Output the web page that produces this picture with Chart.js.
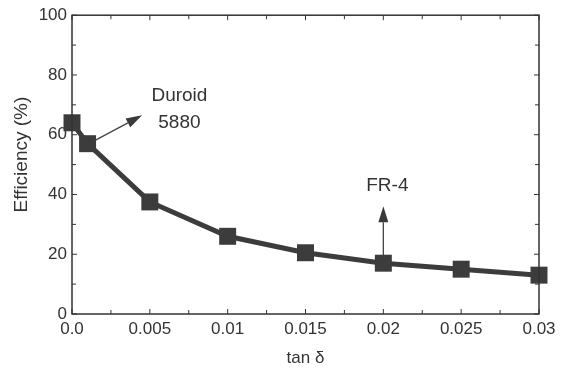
<!DOCTYPE html>
<html>
<head>
<meta charset="utf-8">
<script src="https://cdn.jsdelivr.net/npm/chart.js@4.4.1/dist/chart.umd.min.js"></script>
<style>
  html, body { margin: 0; padding: 0; background: #fff; }
  .chart__container { width: 568px; height: 369px; position: relative; }
</style>
</head>
<body>
<div class="chart__container">
  <canvas id="my-chart"></canvas>
</div>
<script>
// tan delta values and efficiency
const lossTangent = [0, 0.001, 0.005, 0.01, 0.015, 0.02, 0.025, 0.03];
const efficiency = [64, 57, 37.5, 26, 20.5, 17, 15, 13];

const xTicks = [0, 0.005, 0.01, 0.015, 0.02, 0.025, 0.03];
const xTickLabels = ['0.0', '0.005', '0.01', '0.015', '0.02', '0.025', '0.03'];
const yTicks = [0, 20, 40, 60, 80, 100];
const yTickLabels = ['0', '20', '40', '60', '80', '100'];

const ink = '#333';
const font = 'Liberation Sans';

// frame, inward ticks, y title and the two labelled arrows
const framePlugin = {
  id: 'frame',
  afterDraw(chart) {
    const { ctx, chartArea: a, scales: { x, y } } = chart;
    ctx.save();
    ctx.strokeStyle = ink;
    ctx.lineWidth = 1.5;
    ctx.strokeRect(a.left, a.top, a.right - a.left, a.bottom - a.top);

    ctx.lineWidth = 1;
    const tick = (x1, y1, x2, y2) => {
      ctx.beginPath(); ctx.moveTo(x1, y1); ctx.lineTo(x2, y2); ctx.stroke();
    };
    for (let i = 0; i < xTicks.length; i++) {
      const px = x.getPixelForValue(xTicks[i]);
      tick(px, a.bottom, px, a.bottom - 5);
      tick(px, a.top, px, a.top + 5);
      if (i < xTicks.length - 1) {
        const mx = x.getPixelForValue((xTicks[i] + xTicks[i + 1]) / 2);
        tick(mx, a.bottom, mx, a.bottom - 4);
        tick(mx, a.top, mx, a.top + 4);
      }
    }
    for (let i = 0; i < yTicks.length; i++) {
      const py = y.getPixelForValue(yTicks[i]);
      tick(a.left, py, a.left + 5, py);
      tick(a.right, py, a.right - 5, py);
      if (i < yTicks.length - 1) {
        const my = y.getPixelForValue((yTicks[i] + yTicks[i + 1]) / 2);
        tick(a.left, my, a.left + 4, my);
        tick(a.right, my, a.right - 4, my);
      }
    }

    const arrow = (x1, y1, x2, y2) => {
      const ang = Math.atan2(y2 - y1, x2 - x1);
      const len = 16, half = 5;
      const bx = x2 - len * Math.cos(ang), by = y2 - len * Math.sin(ang);
      ctx.strokeStyle = '#444';
      ctx.lineWidth = 1.3;
      ctx.beginPath(); ctx.moveTo(x1, y1); ctx.lineTo(bx, by); ctx.stroke();
      ctx.fillStyle = '#3a3a3a';
      ctx.beginPath();
      ctx.moveTo(x2, y2);
      ctx.lineTo(bx + half * Math.sin(ang), by - half * Math.cos(ang));
      ctx.lineTo(bx - half * Math.sin(ang), by + half * Math.cos(ang));
      ctx.closePath();
      ctx.fill();
    };

    // Duroid 5880 arrow from the 0.001 point
    const dx = x.getPixelForValue(lossTangent[1]) + 7;
    const dy = y.getPixelForValue(efficiency[1]) - 3;
    arrow(dx, dy, x.getPixelForValue(0.0045), y.getPixelForValue(66.5));

    // FR-4 arrow straight up from the 0.02 point
    const fx = x.getPixelForValue(lossTangent[5]);
    const fy = y.getPixelForValue(efficiency[5]);
    arrow(fx, fy - 8, fx, fy - 57);

    ctx.fillStyle = ink;
    ctx.font = '19px "' + font + '"';
    ctx.textAlign = 'center';
    ctx.textBaseline = 'middle';
    ctx.fillText('Duroid', x.getPixelForValue(0.0069), y.getPixelForValue(73));
    ctx.fillText('5880', x.getPixelForValue(0.0069), y.getPixelForValue(64));
    ctx.fillText('FR-4', fx + 4, fy - 77);

    ctx.translate(22, (a.top + a.bottom) / 2 - 10);
    ctx.rotate(-Math.PI / 2);
    ctx.fillText('Efficiency (%)', 0, 0);
    ctx.restore();
  }
};

new Chart(document.getElementById('my-chart'), {
  type: 'line',
  data: {
    datasets: [{
      data: lossTangent.map((v, i) => ({ x: v, y: efficiency[i] })),
      borderColor: '#3c3c3c',
      borderWidth: 5,
      backgroundColor: '#3c3c3c',
      pointStyle: 'rect',
      pointRadius: 12,
      pointBorderWidth: 0,
      pointBackgroundColor: '#3c3c3c',
      tension: 0,
      clip: false,
    }],
  },
  options: {
    responsive: true,
    maintainAspectRatio: false,
    animation: false,
    layout: { padding: { top: 4, right: 29, left: 0, bottom: 0 } },
    plugins: { legend: { display: false }, tooltip: { enabled: false } },
    scales: {
      x: {
        type: 'linear',
        min: 0,
        max: 0.03,
        grid: { display: false, drawTicks: false },
        border: { display: false },
        afterBuildTicks: (s) => { s.ticks = xTicks.map((v) => ({ value: v })); },
        afterFit: (s) => { s.height = 55; },
        ticks: {
          padding: 5,
          color: ink,
          font: { family: font, size: 17 },
          maxRotation: 0,
          autoSkip: false,
          callback: (v, i) => xTickLabels[i],
        },
        title: {
          display: true,
          text: 'tan δ',
          color: ink,
          font: { family: font, size: 17 },
          padding: { top: 4, bottom: 0 },
        },
      },
      y: {
        min: 0,
        max: 100,
        grid: { display: false, drawTicks: false },
        border: { display: false },
        afterBuildTicks: (s) => { s.ticks = yTicks.map((v) => ({ value: v })); },
        afterFit: (s) => { s.width = 72; },
        ticks: {
          padding: 5,
          color: ink,
          font: { family: font, size: 17 },
          callback: (v, i) => yTickLabels[i],
        },
      },
    },
  },
  plugins: [framePlugin],
});
</script>
</body>
</html>
